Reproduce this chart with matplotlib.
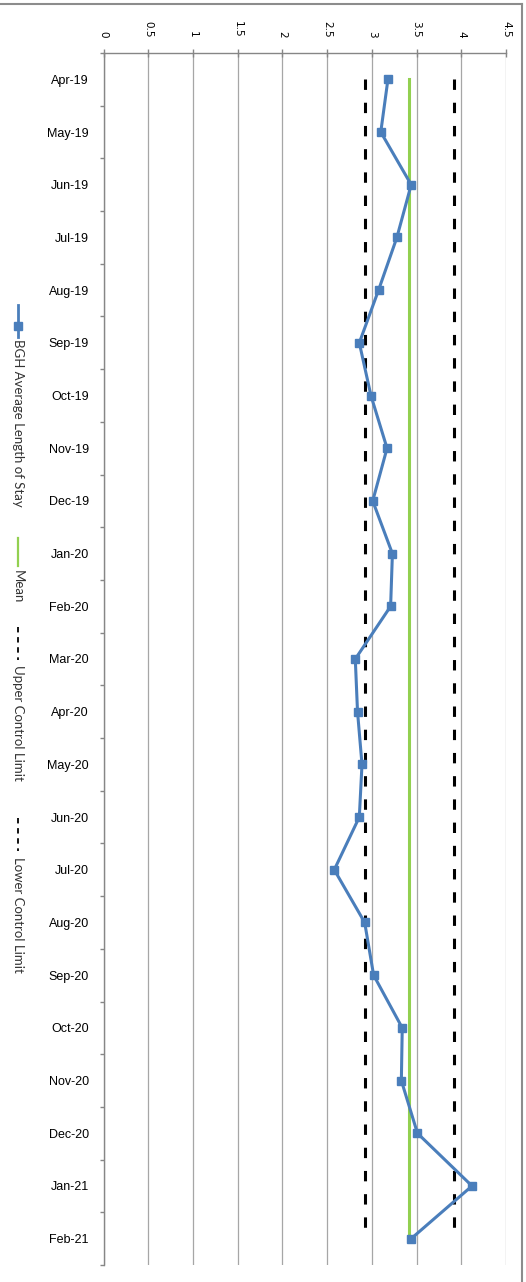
import numpy as np
import matplotlib
matplotlib.use("Agg")
import matplotlib.pyplot as plt
from matplotlib.lines import Line2D

# Monthly average length of stay with control limits
months = ["Apr-19", "May-19", "Jun-19", "Jul-19", "Aug-19", "Sep-19", "Oct-19",
          "Nov-19", "Dec-19", "Jan-20", "Feb-20", "Mar-20", "Apr-20", "May-20",
          "Jun-20", "Jul-20", "Aug-20", "Sep-20", "Oct-20", "Nov-20", "Dec-20",
          "Jan-21", "Feb-21"]
avg_los = [3.18, 3.10, 3.44, 3.28, 3.075, 2.86, 2.99, 3.17, 3.01, 3.23, 3.21,
           2.815, 2.84, 2.89, 2.86, 2.58, 2.92, 3.02, 3.34, 3.33, 3.51, 4.12, 3.44]
mean_value = 3.42
upper_limit = 3.92
lower_limit = 2.92
value_ticks = [0, 0.5, 1, 1.5, 2, 2.5, 3, 3.5, 4, 4.5]
legend_labels = ["BGH Average Length of Stay", "Mean",
                 "Upper Control Limit", "Lower Control Limit"]

W, H = 526, 1282
BLUE = "#4A7EBB"
GREEN = "#92D050"
AXIS_GREY = "#868686"
GRID_GREY = "#A6A6A6"
DASH = (0, (3.4, 4.2))
LEGEND_DASH = (0, (3.0, 2.6))

fig = plt.figure(figsize=(W / 100, H / 100), dpi=100)
fig.patch.set_facecolor("white")

left, right, top, bottom = 103.5, 506, 53, 1265
ax = fig.add_axes([left / W, 1 - bottom / H, (right - left) / W, (bottom - top) / H])

y = np.arange(len(months))
n = len(months)

# Mean and control limits run the full length of the category axis
ax.plot([mean_value] * n, y, color=GREEN, lw=2.2, zorder=3)
ax.plot([upper_limit] * n, y, color="black", lw=2.2, ls=DASH, zorder=3)
ax.plot([lower_limit] * n, y, color="black", lw=2.2, ls=DASH, zorder=3)
ax.plot(avg_los, y, color=BLUE, lw=2.2, marker="s", ms=6,
        markerfacecolor=BLUE, markeredgecolor=BLUE, zorder=4)

ax.set_xlim(0, 4.5)
ax.set_ylim(n - 0.5, -0.5)

# value axis along the top, labels turned sideways
ax.xaxis.tick_top()
ax.set_xticks(value_ticks)
ax.set_xticklabels([f"{v:g}" for v in value_ticks], fontsize=7.5,
                   family="DejaVu Sans", rotation=-90, va="bottom", ha="center")
ax.tick_params(axis="x", direction="inout", length=6, width=1,
               color=AXIS_GREY, pad=8)
ax.grid(axis="x", color=GRID_GREY, lw=0.9)
ax.set_axisbelow(True)

# category axis: labels centred on each month, ticks between months
ax.set_yticks(y)
ax.set_yticklabels(months, fontsize=9, family="Liberation Sans")
ax.set_yticks(np.arange(-0.5, n, 1), minor=True)
ax.tick_params(axis="y", which="major", length=0, pad=10.5)
ax.tick_params(axis="y", which="minor", length=3, width=1,
               color=AXIS_GREY, direction="out")

for side in ("right", "bottom"):
    ax.spines[side].set_visible(False)
for side in ("left", "top"):
    ax.spines[side].set_color(AXIS_GREY)
    ax.spines[side].set_linewidth(1)

# chart border
def fx(px):
    return px / W

def fy(py):
    return 1 - py / H

fig.add_artist(Line2D([0, fx(522)], [fy(4), fy(4)], color="#8C8C8C", lw=1.5))
fig.add_artist(Line2D([fx(522), fx(522)], [fy(4), 0], color="#8C8C8C", lw=1.5))

# legend, laid out vertically with sideways text
lx = fx(18)
fig.add_artist(Line2D([lx, lx], [fy(305), fy(337)], color=BLUE, lw=2.0))
fig.add_artist(Line2D([lx], [fy(326)], color=BLUE, marker="s", ms=5.5, lw=0))
fig.add_artist(Line2D([lx, lx], [fy(538), fy(566)], color=GREEN, lw=1.6))
fig.add_artist(Line2D([lx, lx], [fy(627), fy(660)], color="black", lw=1.3,
                      ls=LEGEND_DASH))
fig.add_artist(Line2D([lx, lx], [fy(818), fy(851)], color="black", lw=1.3,
                      ls=LEGEND_DASH))

text_starts = [339, 570, 665, 857]
for label, ys in zip(legend_labels, text_starts):
    fig.text(lx, fy(ys), label, rotation=-90, ha="center", va="top",
             fontsize=9.5, family="Lato", color="#333333")

fig.savefig("out.png", dpi=100, facecolor="white")
